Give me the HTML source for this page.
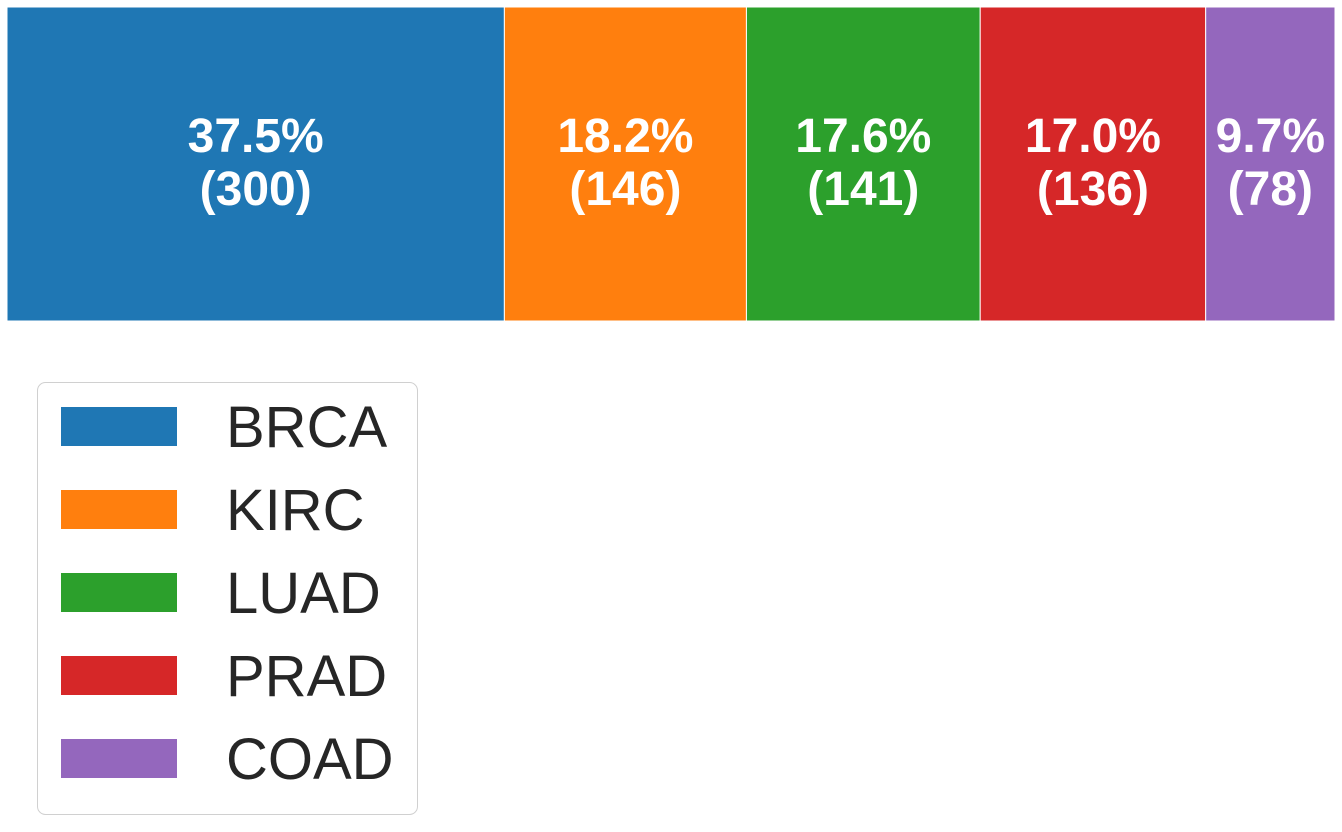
<!DOCTYPE html>
<html><head><meta charset="utf-8"><style>
body{margin:0;background:#fff;width:1342px;height:827px;overflow:hidden;font-family:"Liberation Sans",Arial,sans-serif}
</style></head><body>
<svg id="chart" width="1342" height="827" xmlns="http://www.w3.org/2000/svg"></svg>
<script>
const categories=["BRCA","KIRC","LUAD","PRAD","COAD"];
const counts=[300,146,141,136,78];
const percentLabels=["37.5%","18.2%","17.6%","17.0%","9.7%"];
const colors=["#1f77b4","#ff7f0e","#2ca02c","#d62728","#9467bd"];
const NS="http://www.w3.org/2000/svg";
const svg=document.getElementById("chart");
const x0=7,x1=1335,y0=7,y1=321;
const total=counts.reduce((a,b)=>a+b,0);
const xScale=v=>x0+(x1-x0)*v/total;
function mk(t,a){const e=document.createElementNS(NS,t);for(const k in a)e.setAttribute(k,a[k]);svg.appendChild(e);return e;}
let cum=0;
counts.forEach((c,i)=>{
  const xa=xScale(cum),xb=xScale(cum+c);cum+=c;
  const r=mk("rect",{x:xa,y:y0,width:xb-xa,height:y1-y0,fill:colors[i],stroke:"#fff","stroke-width":1});
  
  
  const cx=(xa+xb)/2;
  const t=mk("text",{x:cx,y:152,"text-anchor":"middle","font-size":48,"font-weight":"bold",fill:"#fff"});
  t.textContent=percentLabels[i];
  
  
  const t2=mk("text",{x:cx,y:205,"text-anchor":"middle","font-size":48,"font-weight":"bold",fill:"#fff"});
  t2.textContent="("+c+")";
  
  
});
const lg=mk("rect",{x:37.5,y:382.5,width:380,height:432,rx:8,fill:"#fff",stroke:"#d0d0d0","stroke-width":1});


categories.forEach((c,i)=>{
  const y=407+i*83;
  const p=mk("rect",{x:61,y:y,width:116,height:39,fill:colors[i]});
  
  
  const t=mk("text",{x:226,y:y+40,"font-size":58,fill:"#262626"});
  t.textContent=c;
  
  
});
</script>
</body></html>
